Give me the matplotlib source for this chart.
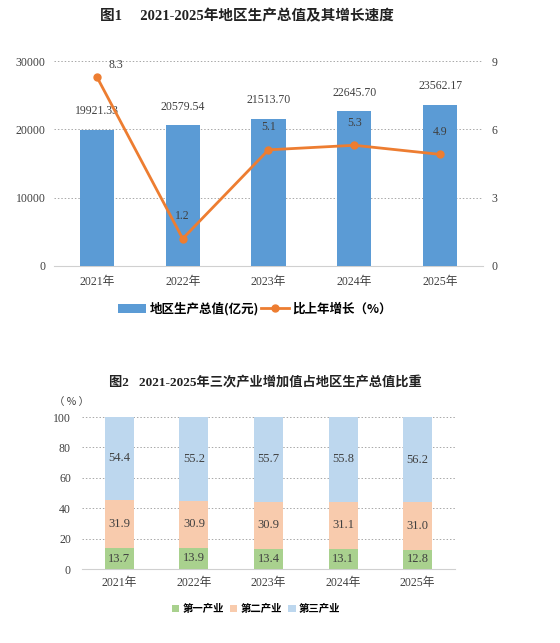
# -*- coding: utf-8 -*-
import matplotlib
matplotlib.use('Agg')
import matplotlib.pyplot as plt
from matplotlib.patches import Patch
from matplotlib.lines import Line2D
import numpy as np

plt.rcParams['font.family'] = ['Liberation Serif', 'Noto Sans CJK SC', 'DejaVu Sans']
plt.rcParams['axes.unicode_minus'] = False

# 数据
years = ['2021年', '2022年', '2023年', '2024年', '2025年']
gdp = [19921.33, 20579.54, 21513.70, 22645.70, 23562.17]
growth = [8.3, 1.2, 5.1, 5.3, 4.9]

primary = [13.7, 13.9, 13.4, 13.1, 12.8]
secondary = [31.9, 30.9, 30.9, 31.1, 31.0]
tertiary = [54.4, 55.2, 55.7, 55.8, 56.2]

W, H = 560, 643
fig = plt.figure(figsize=(W / 100, H / 100), dpi=100)
fig.patch.set_facecolor('white')

blue = '#5B9BD5'
orange = '#ED7D31'
txt = '#404040'
cjk = ['Noto Sans CJK SC', 'DejaVu Sans']

def box(l, t, r, b):
    return [l / W, 1 - b / H, (r - l) / W, (b - t) / H]

# ---------------- 图1 ----------------
fig.text(247 / W, 1 - 16 / H, '图1\u3000 2021-2025年地区生产总值及其增长速度',
         ha='center', va='center', fontsize=10.5, fontweight='bold', color='#222222')

ax1 = fig.add_axes(box(54, 61, 483, 266))
x = np.arange(len(years))
bars = ax1.bar(x, gdp, width=0.4, color=blue, zorder=3)
ax1.bar_label(bars, labels=['%.2f' % v for v in gdp], padding=9, fontsize=8.5, color=txt)
ax1.set_ylim(0, 30000)
ax1.set_yticks([0, 10000, 20000, 30000])
ax1.set_xlim(-0.5, 4.5)
ax1.set_xticks(x)
ax1.set_xticklabels(years)
ax1.grid(axis='y', linestyle=(0, (1.5, 2)), color='#a8a8a8', linewidth=0.7, zorder=0)
for s in ['top', 'right', 'left']:
    ax1.spines[s].set_visible(False)
ax1.spines['bottom'].set_color('#d0d0d0')
ax1.tick_params(axis='both', length=0, labelsize=8.5, colors=txt)
ax1.tick_params(axis='x', pad=7)
ax1.tick_params(axis='y', pad=6)

ax1r = ax1.twinx()
ax1r.plot(x, growth, color=orange, linewidth=2, marker='o', markersize=5, zorder=5)
ax1r.set_ylim(0, 9)
ax1r.set_yticks([0, 3, 6, 9])
for s in ['top', 'right', 'left', 'bottom']:
    ax1r.spines[s].set_visible(False)
ax1r.tick_params(axis='y', length=0, labelsize=8.5, colors=txt, pad=6)
for i, v in enumerate(growth):
    off = (14, 4) if i == 0 else (0, 12)
    ax1r.annotate('%.1f' % v, (i, v), xytext=off, textcoords='offset points',
                  ha='center', va='bottom', fontsize=8.5, color=txt)

h1 = [Patch(facecolor=blue), Line2D([], [], color=orange, linewidth=2, marker='o', markersize=5)]
fig.legend(h1, ['地区生产总值(亿元)', '比上年增长（%）'], loc='center',
           bbox_to_anchor=(255 / W, 1 - 309 / H), ncol=2, frameon=False,
           prop={'family': cjk, 'size': 9, 'weight': 'bold'},
           handlelength=2.2, handletextpad=0.3, columnspacing=0.2)

# ---------------- 图2 ----------------
fig.text(265 / W, 1 - 383 / H, '图2   2021-2025年三次产业增加值占地区生产总值比重',
         ha='center', va='center', fontsize=9.5, fontweight='bold', color='#222222')

ax2 = fig.add_axes(box(82, 417, 455, 569))
b1 = ax2.bar(x, primary, width=0.39, color='#A9D18E', zorder=3)
b2 = ax2.bar(x, secondary, width=0.39, bottom=primary, color='#F8CBAD', zorder=3)
bottom3 = np.array(primary) + np.array(secondary)
b3 = ax2.bar(x, tertiary, width=0.39, bottom=bottom3, color='#BDD7EE', zorder=3)
for b, vals in [(b1, primary), (b2, secondary), (b3, tertiary)]:
    ax2.bar_label(b, labels=['%.1f' % v for v in vals], label_type='center',
                  fontsize=9, color=txt)
ax2.set_ylim(0, 100)
ax2.set_yticks(range(0, 101, 20))
ax2.set_xlim(-0.5, 4.5)
ax2.set_xticks(x)
ax2.set_xticklabels(years)
ax2.grid(axis='y', linestyle=(0, (1.5, 2)), color='#a8a8a8', linewidth=0.7, zorder=0)
for s in ['top', 'right', 'left']:
    ax2.spines[s].set_visible(False)
ax2.spines['bottom'].set_color('#d0d0d0')
ax2.tick_params(axis='both', length=0, labelsize=8.5, colors=txt)
ax2.tick_params(axis='x', pad=6)
ax2.tick_params(axis='y', pad=8)
fig.text(72 / W, 1 - 402 / H, '（ % ）', ha='center', va='center', fontsize=7.5,
         color=txt, family=cjk)

h2 = [Patch(facecolor='#A9D18E'), Patch(facecolor='#F8CBAD'), Patch(facecolor='#BDD7EE')]
fig.legend(h2, ['第一产业', '第二产业', '第三产业'], loc='center',
           bbox_to_anchor=(256 / W, 1 - 609 / H), ncol=3, frameon=False,
           prop={'family': cjk, 'size': 7.5, 'weight': 'bold'},
           handlelength=0.7, handleheight=0.7, handletextpad=0.3, columnspacing=0.6)

plt.savefig('out.png', dpi=100, facecolor='white')
